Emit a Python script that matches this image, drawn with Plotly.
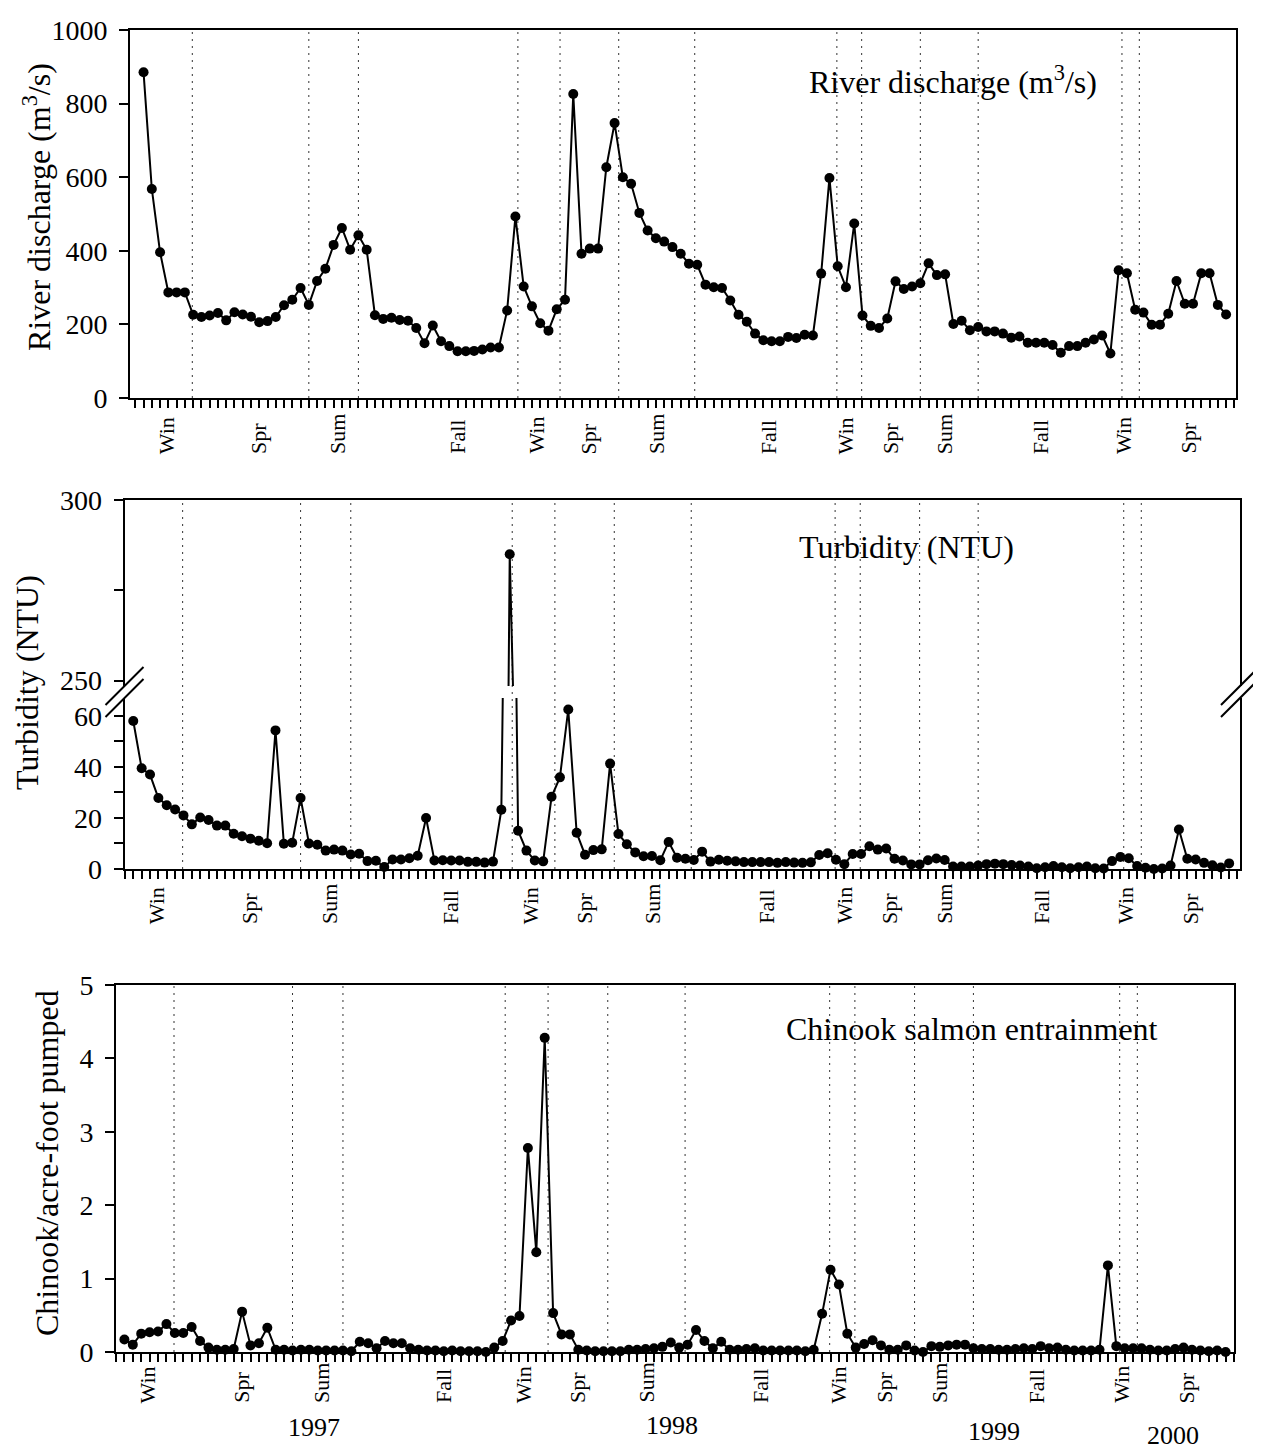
import plotly.graph_objects as go

W, H = 1261, 1451
FONT = "Liberation Serif"

# ---------------- data ----------------
sample = list(range(1, 133))

discharge = [
    885, 568, 396, 287, 287, 287, 226, 220, 224, 231,
    211, 233, 227, 221, 206, 209, 220, 252, 267, 299,
    253, 318, 351, 416, 462, 403, 442, 403, 225, 215,
    218, 212, 210, 190, 149, 197, 154, 141, 127, 127,
    128, 132, 137, 137, 238, 493, 303, 249, 203, 183,
    241, 267, 826, 392, 406, 406, 627, 747, 600, 582,
    503, 455, 434, 425, 410, 392, 365, 362, 308, 301,
    299, 265, 226, 207, 175, 157, 154, 154, 166, 163,
    172, 170, 338, 598, 358, 301, 474, 224, 196, 190,
    216, 317, 296, 303, 312, 366, 334, 336, 201, 210,
    184, 193, 181, 181, 175, 164, 167, 150, 150, 150,
    144, 123, 141, 141, 150, 159, 170, 121, 347, 339,
    240, 232, 199, 199, 229, 318, 256, 256, 339, 339,
    253, 227,
]

turbidity = [
    58, 39.5, 37, 27.8, 25, 23.3, 21, 17.5, 20.2, 19.2,
    17, 17, 13.8, 12.8, 11.9, 11.1, 10.1, 54.3, 9.9, 10.3,
    27.8, 10, 9.5, 7.2, 7.6, 7.2, 5.7, 6, 3.1, 3.2,
    0.8, 3.7, 3.7, 4.2, 5.2, 20, 3.3, 3.4, 3.3, 3.3,
    2.8, 2.8, 2.5, 2.9, 23.2, 285, 15, 7.2, 3.3, 3,
    28.3, 35.9, 62.5, 14.2, 5.6, 7.4, 7.7, 41.3, 13.7, 9.7,
    6.5, 5, 5.1, 3.4, 10.6, 4.4, 4, 3.5, 6.8, 2.9,
    3.6, 3.2, 3, 2.7, 2.7, 2.7, 2.7, 2.4, 2.7, 2.5,
    2.4, 2.6, 5.5, 6.2, 3.6, 1.9, 5.9, 5.9, 8.9, 7.6,
    8, 4, 3.3, 1.8, 1.8, 3.4, 4.1, 3.5, 1, 1,
    1, 1.4, 1.9, 2.1, 1.9, 1.6, 1.4, 1, 0.3, 0.7,
    1.2, 0.7, 0.3, 0.7, 1, 0.3, 0.2, 3.1, 4.7, 4.2,
    1.2, 0.5, 0, 0.2, 1.4, 15.5, 4, 3.7, 2.4, 1.5,
    0.6, 2.2,
]

chinook = [
    0.17, 0.10, 0.25, 0.27, 0.28, 0.38, 0.26, 0.26, 0.34, 0.15,
    0.06, 0.03, 0.03, 0.04, 0.55, 0.09, 0.12, 0.33, 0.03, 0.03,
    0.02, 0.03, 0.03, 0.02, 0.02, 0.02, 0.02, 0.01, 0.14, 0.12,
    0.05, 0.15, 0.12, 0.12, 0.05, 0.03, 0.02, 0.02, 0.01, 0.02,
    0.01, 0.01, 0.01, 0.0, 0.06, 0.15, 0.43, 0.49, 2.78, 1.36,
    4.28, 0.53, 0.24, 0.24, 0.03, 0.02, 0.01, 0.01, 0.01, 0.01,
    0.03, 0.03, 0.04, 0.05, 0.07, 0.13, 0.06, 0.10, 0.30, 0.15,
    0.05, 0.14, 0.03, 0.03, 0.04, 0.05, 0.02, 0.02, 0.02, 0.02,
    0.02, 0.01, 0.03, 0.52, 1.12, 0.92, 0.25, 0.06, 0.11, 0.16,
    0.09, 0.03, 0.03, 0.09, 0.02, 0.0, 0.08, 0.07, 0.09, 0.10,
    0.10, 0.05, 0.04, 0.04, 0.03, 0.03, 0.04, 0.05, 0.04, 0.08,
    0.05, 0.06, 0.03, 0.02, 0.02, 0.02, 0.03, 1.18, 0.08, 0.05,
    0.05, 0.05, 0.03, 0.02, 0.02, 0.04, 0.06, 0.03, 0.02, 0.01,
    0.02, 0.0,
]

season_labels = ["Win", "Spr", "Sum", "Fall", "Win", "Spr", "Sum", "Fall",
                 "Win", "Spr", "Sum", "Fall", "Win", "Spr"]
season_label_pos = [3.8, 14.9, 24.4, 38.9, 48.5, 54.9, 63.0, 76.6,
                    86.0, 91.4, 97.9, 109.5, 119.6, 127.4]
season_bounds = [6.9, 21.0, 27.0, 46.3, 51.4, 58.5, 67.7, 84.9, 87.9,
                 95.0, 102.0, 119.4, 121.5]

year_labels = ["1997", "1998", "1999", "2000"]
year_pos = [23.5, 66.2, 104.5, 125.7]

discharge_ticks = [0, 200, 400, 600, 800, 1000]
turb_low_ticks = [0, 10, 20, 30, 40, 50, 60]
turb_low_text = ["0", " ", "20", " ", "40", " ", "60"]
turb_high_ticks = [250, 275, 300]
turb_high_text = ["250", " ", "300"]
chinook_ticks = [0, 1, 2, 3, 4, 5]

# ---------------- layout helpers (page pixels -> paper) ----------------
# the page body has an 8px default margin, so compensate for it
OFF = 8

def fx(px):
    return (px - OFF) / W

def fy(py):
    return 1 - (py - OFF) / H

A_x = [fx(130), fx(1236)]
A_y = [fy(398), fy(30)]
B_x = [fx(124.5), fx(1240)]
B_up_y = [fy(686), fy(500)]
B_lo_y = [fy(869), fy(698)]
C_x = [fx(116), fx(1234)]
C_y = [fy(1352), fy(985)]

LOW_MAX = 67
HIGH_MIN = 248.5

line_style = dict(color="black", width=2)
marker_style = dict(color="black", size=10, symbol="circle")

fig = go.Figure()

# Panel A - discharge
fig.add_trace(go.Scatter(x=sample, y=discharge, mode="lines+markers",
                         line=line_style, marker=marker_style,
                         cliponaxis=False, xaxis="x", yaxis="y"))

# Panel B - turbidity (broken axis): lines clipped, markers filtered
fig.add_trace(go.Scatter(x=sample, y=turbidity, mode="lines", line=line_style,
                         xaxis="x2", yaxis="y2"))
hi_x = [s for s, v in zip(sample, turbidity) if v >= HIGH_MIN]
hi_y = [v for v in turbidity if v >= HIGH_MIN]
fig.add_trace(go.Scatter(x=hi_x, y=hi_y, mode="markers", marker=marker_style,
                         cliponaxis=False, xaxis="x2", yaxis="y2"))
fig.add_trace(go.Scatter(x=sample, y=turbidity, mode="lines", line=line_style,
                         xaxis="x3", yaxis="y3"))
lo_x = [s for s, v in zip(sample, turbidity) if v <= LOW_MAX]
lo_y = [v for v in turbidity if v <= LOW_MAX]
fig.add_trace(go.Scatter(x=lo_x, y=lo_y, mode="markers", marker=marker_style,
                         cliponaxis=False, xaxis="x3", yaxis="y3"))

# Panel C - chinook
fig.add_trace(go.Scatter(x=sample, y=chinook, mode="lines+markers",
                         line=line_style, marker=marker_style,
                         cliponaxis=False, xaxis="x4", yaxis="y4"))

tickfont = dict(family=FONT, size=28, color="black")

def xax(domain, rng, anchor, mirror=True, ticks=True, side="bottom"):
    d = dict(domain=domain, range=rng, anchor=anchor, showline=True,
             linecolor="black", linewidth=2, mirror=mirror, showgrid=False,
             zeroline=False, showticklabels=False, side=side,
             automargin=False, fixedrange=True)
    if ticks:
        d.update(ticks="outside", tickmode="linear", tick0=0, dtick=1,
                 ticklen=8, tickwidth=1.5, tickcolor="black")
    else:
        d.update(ticks="")
    return d

def yax(domain, rng, anchor, tickvals, ticktext=None):
    return dict(domain=domain, range=rng, anchor=anchor, showline=True,
                linecolor="black", linewidth=2, mirror=True, showgrid=False,
                zeroline=False, ticks="outside", ticklen=9, tickwidth=1.5,
                tickcolor="black", tickmode="array", tickvals=tickvals,
                ticktext=ticktext if ticktext else [str(t) for t in tickvals],
                tickfont=tickfont, ticklabelstandoff=6, automargin=False,
                fixedrange=True)

fig.update_layout(
    width=W, height=H,
    margin=dict(l=0, r=0, t=0, b=0),
    paper_bgcolor="white", plot_bgcolor="white",
    showlegend=False,
    xaxis=xax(A_x, [-0.64, 133.2], "y"),
    yaxis=yax(A_y, [0, 1000], "x", discharge_ticks),
    xaxis2=xax(B_x, [-0.05, 133.3], "y2", mirror=False, ticks=False, side="top"),
    yaxis2=yax(B_up_y, [HIGH_MIN, 300], "x2", turb_high_ticks, turb_high_text),
    xaxis3=xax(B_x, [-0.05, 133.3], "y3", mirror=False),
    yaxis3=yax(B_lo_y, [0, LOW_MAX], "x3", turb_low_ticks, turb_low_text),
    xaxis4=xax(C_x, [0, 133], "y4"),
    yaxis4=yax(C_y, [0, 5], "x4", chinook_ticks),
)

shapes = []
dot = dict(color="#333333", width=1, dash="2px,5px")
# season boundaries
for b in season_bounds:
    shapes.append(dict(type="line", xref="x", yref="y domain", x0=b, x1=b,
                       y0=0, y1=1, line=dot, layer="below"))
    shapes.append(dict(type="line", xref="x3", yref="paper", x0=b, x1=b,
                       y0=B_lo_y[0], y1=B_up_y[1], line=dot, layer="below"))
    shapes.append(dict(type="line", xref="x4", yref="y4 domain", x0=b, x1=b,
                       y0=0, y1=1, line=dot, layer="below"))

# axis break marks
brk = dict(color="black", width=2)
for (x0, y0, x1, y1) in [(105.5, 705, 143.5, 667), (105.5, 717, 143.5, 679),
                         (1221, 705, 1259, 667), (1221, 717, 1259, 679)]:
    shapes.append(dict(type="line", xref="paper", yref="paper",
                       x0=fx(x0), y0=fy(y0), x1=fx(x1), y1=fy(y1), line=brk))
fig.update_layout(shapes=shapes)

ann = []
sfont = dict(family=FONT, size=22, color="black")
for xr, ybot in [("x", 456), ("x3", 926), ("x4", 1405)]:
    for lab, pos in zip(season_labels, season_label_pos):
        ann.append(dict(text=lab, x=pos, xref=xr, y=fy(ybot), yref="paper",
                        xanchor="center", yanchor="bottom", textangle=-90,
                        showarrow=False, font=sfont))

yfont = dict(family=FONT, size=26, color="black")
for lab, pos, ypx in zip(year_labels, year_pos, [1427, 1425, 1431, 1435]):
    ann.append(dict(text=lab, x=pos, xref="x4", y=fy(ypx), yref="paper",
                    xanchor="center", yanchor="middle", showarrow=False,
                    font=yfont))

tfont = dict(family=FONT, size=32, color="black")
# axis titles
for txt, xp, yp in [("River discharge (m<sup>3</sup>/s)", 37, 207),
                    ("Turbidity (NTU)", 27, 683),
                    ("Chinook/acre-foot pumped", 47, 1163)]:
    ann.append(dict(text=txt, x=fx(xp), y=fy(yp), xref="paper", yref="paper",
                    xanchor="center", yanchor="middle", textangle=-90,
                    showarrow=False, font=tfont))
# inset titles
for txt, xp, yp in [("River discharge (m<sup>3</sup>/s)", 953, 80),
                    ("Turbidity (NTU)", 906, 547),
                    ("Chinook salmon entrainment", 972, 1029)]:
    ann.append(dict(text=txt, x=fx(xp), y=fy(yp), xref="paper", yref="paper",
                    xanchor="center", yanchor="middle", showarrow=False,
                    font=tfont))
fig.update_layout(annotations=ann)

fig.write_html("out.html")
